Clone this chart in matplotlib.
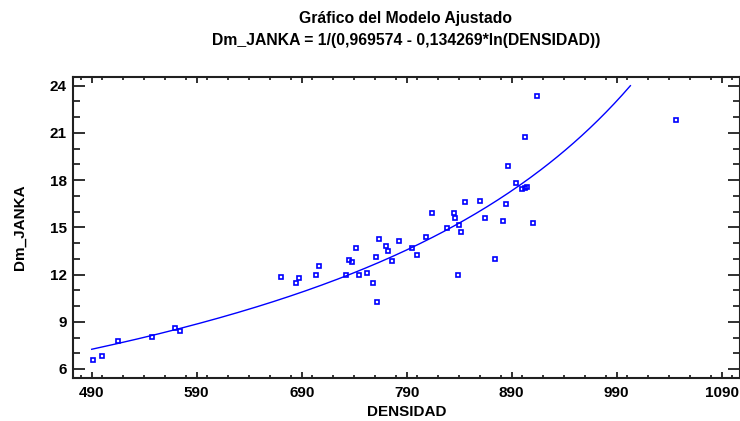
import matplotlib.pyplot as plt
import numpy as np
from matplotlib.ticker import MultipleLocator

# DENSIDAD vs Dm_JANKA observations
densidad = [491, 499.5, 515.3, 547.4, 569, 574.1, 670.3, 684.3, 687.1, 703.6,
            706.2, 732.2, 735.3, 737.6, 741.4, 744.9, 752.5, 758.2, 761.7, 760.8,
            763.3, 770.6, 771.9, 775.7, 782.4, 794.8, 799.5, 808.7, 814.4, 828.7,
            834.8, 835.7, 840.1, 841.4, 839.1, 845.8, 859.5, 864.9, 874.4, 881.7,
            884.6, 886.5, 893.6, 899.9, 902.7, 904.9, 903.0, 914.1, 910.6, 1046.2]
dm_janka = [6.59, 6.85, 7.76, 8.01, 8.62, 8.39, 11.83, 11.48, 11.76, 11.97,
            12.52, 11.97, 12.94, 12.80, 13.69, 11.97, 12.08, 11.48, 10.24, 13.13,
            14.24, 13.81, 13.52, 12.88, 14.13, 13.67, 13.26, 14.37, 15.89, 14.98,
            15.89, 15.59, 15.17, 14.72, 11.95, 16.63, 16.69, 15.59, 13.01, 15.40,
            16.46, 18.92, 17.81, 17.45, 17.52, 17.58, 20.72, 23.36, 15.30, 21.80]

# fitted model coefficients
a = 0.969574
b = 0.134269
x_fit = np.linspace(490, 1003, 200)
y_fit = 1.0 / (a - b * np.log(x_fit))

plt.rcParams['font.family'] = ['Liberation Sans', 'DejaVu Sans']

fig = plt.figure(figsize=(7.4, 4.21), dpi=100)
ax = fig.add_axes([72.5 / 740, 43.5 / 421, (740 - 72.5) / 740, (377.5 - 77.3) / 421])

ax.plot(x_fit, y_fit, color='#0000ff', lw=1.0)
ax.plot(densidad, dm_janka, 's', ms=3.5, mfc='none', mec='#0000ff', mew=1.2)

ax.set_xlim(471.7, 1107.4)
ax.set_ylim(5.46, 24.53)
ax.xaxis.set_major_locator(MultipleLocator(100))
ax.xaxis.set_minor_locator(MultipleLocator(20))
ax.yaxis.set_major_locator(MultipleLocator(3))
ax.yaxis.set_minor_locator(MultipleLocator(1))
ax.set_xticks(np.arange(490, 1091, 100))

for s in ax.spines.values():
    s.set_linewidth(1.5)
    s.set_color('#202020')

ax.tick_params(axis='x', which='major', direction='in', length=4, width=1.3,
               top=True, bottom=True, pad=6, labelsize=11, colors='#202020')
ax.tick_params(axis='x', which='minor', direction='in', length=2.5, width=1.1,
               top=True, bottom=True)
ax.tick_params(axis='y', which='major', direction='in', length=8.5, width=1.3,
               left=True, right=True, pad=4, labelsize=11, colors='#202020')
ax.tick_params(axis='y', which='minor', direction='in', length=5, width=1.1,
               left=True, right=True)
for lab in ax.get_xticklabels() + ax.get_yticklabels():
    lab.set_fontweight('bold')
    lab.set_color('black')

ax.set_xlabel('DENSIDAD', fontsize=11, fontweight='bold', labelpad=4)
ax.set_ylabel('Dm_JANKA', fontsize=11, fontweight='bold', labelpad=17)

fig.text(406 / 740, 1 - 18 / 421, 'Gráfico del Modelo Ajustado',
         ha='center', va='center', fontsize=11.3, fontweight='bold',
         family=['Liberation Sans Narrow', 'Liberation Sans'])
fig.text(406 / 740, 1 - 40 / 421, 'Dm_JANKA = 1/(0,969574 - 0,134269*ln(DENSIDAD))',
         ha='center', va='center', fontsize=11.3, fontweight='bold',
         family=['Liberation Sans Narrow', 'Liberation Sans'])

plt.savefig('out.png', dpi=100)
